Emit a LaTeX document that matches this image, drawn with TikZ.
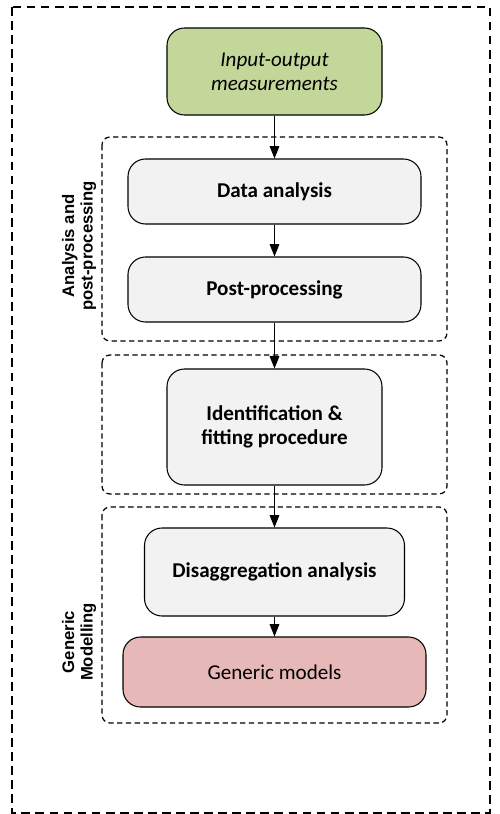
\documentclass[tikz,border=0pt]{standalone}
\usepackage{fontspec}
\setmainfont{Carlito}
\newfontfamily\sidefont{Liberation Sans}
\usetikzlibrary{arrows.meta}
\definecolor{inputgreen}{HTML}{C4D79B}
\definecolor{stepgray}{HTML}{F2F2F2}
\definecolor{modelpink}{HTML}{E6B8B7}
\tikzset{
  stepbox/.style={draw, rounded corners=0.35cm, fill=stepgray, line width=0.6pt,
    align=center, font=\fontsize{12}{14}\selectfont\bfseries, inner sep=2pt},
  grpbox/.style={draw, rounded corners=0.16cm, line width=0.7pt,
    dash pattern=on 3pt off 2pt},
  sidelabel/.style={rotate=90, align=center, font=\sidefont\fontsize{9.5}{10.5}\selectfont\bfseries},
  arr/.style={-{Triangle[length=7pt,width=5.5pt]}, line width=0.6pt}
}
\begin{document}
\begin{tikzpicture}
			%%%%% FRAME %%%%%
			\useasboundingbox (0,0) rectangle (9.98,-16.28);
			\draw[line width=1.1pt, dash pattern=on 5pt off 3pt] (0.24,-0.14) rectangle (9.80,-16.26);
			
			%%%%% GROUPS %%%%%
			\draw[grpbox] (2.04,-2.74) rectangle (8.94,-6.82);
			\draw[grpbox] (2.04,-7.10) rectangle (8.94,-9.88);
			\draw[grpbox] (2.04,-10.14) rectangle (8.94,-14.46);
			
			\node[sidelabel] (lblA) at (1.58,-4.92) {Analysis and\\post-processing};
			\node[sidelabel] (lblG) at (1.58,-12.84) {Generic\\Modelling};
			
			%%%%% STEPS %%%%%
			\node[stepbox, fill=inputgreen, minimum width=4.3cm, minimum height=1.74cm,
			  font=\fontsize{12}{13.5}\selectfont\itshape] (inp) at (5.49,-1.43) {Input-output\\measurements};
			\node[stepbox, minimum width=5.86cm, minimum height=1.3cm] (data) at (5.49,-3.83) {Data analysis};
			\node[stepbox, minimum width=5.86cm, minimum height=1.3cm] (post) at (5.49,-5.79) {Post-processing};
			\node[stepbox, minimum width=4.3cm, minimum height=2.32cm] (ident) at (5.49,-8.54) {Identification \&\\fitting procedure};
			\node[stepbox, minimum width=5.2cm, minimum height=1.76cm] (disag) at (5.49,-11.44) {Disaggregation analysis};
			\node[stepbox, fill=modelpink, minimum width=6.06cm, minimum height=1.4cm,
			  font=\fontsize{12}{14}\selectfont] (gen) at (5.49,-13.44) {Generic models};
			
			%%%%% ARROWS %%%%%
			\draw[arr] (inp) -- (data);
			\draw[arr] (data) -- (post);
			\draw[arr] (post) -- (ident);
			\draw[arr] (ident) -- (disag);
			\draw[arr] (disag) -- (gen);
		\end{tikzpicture}
\end{document}
